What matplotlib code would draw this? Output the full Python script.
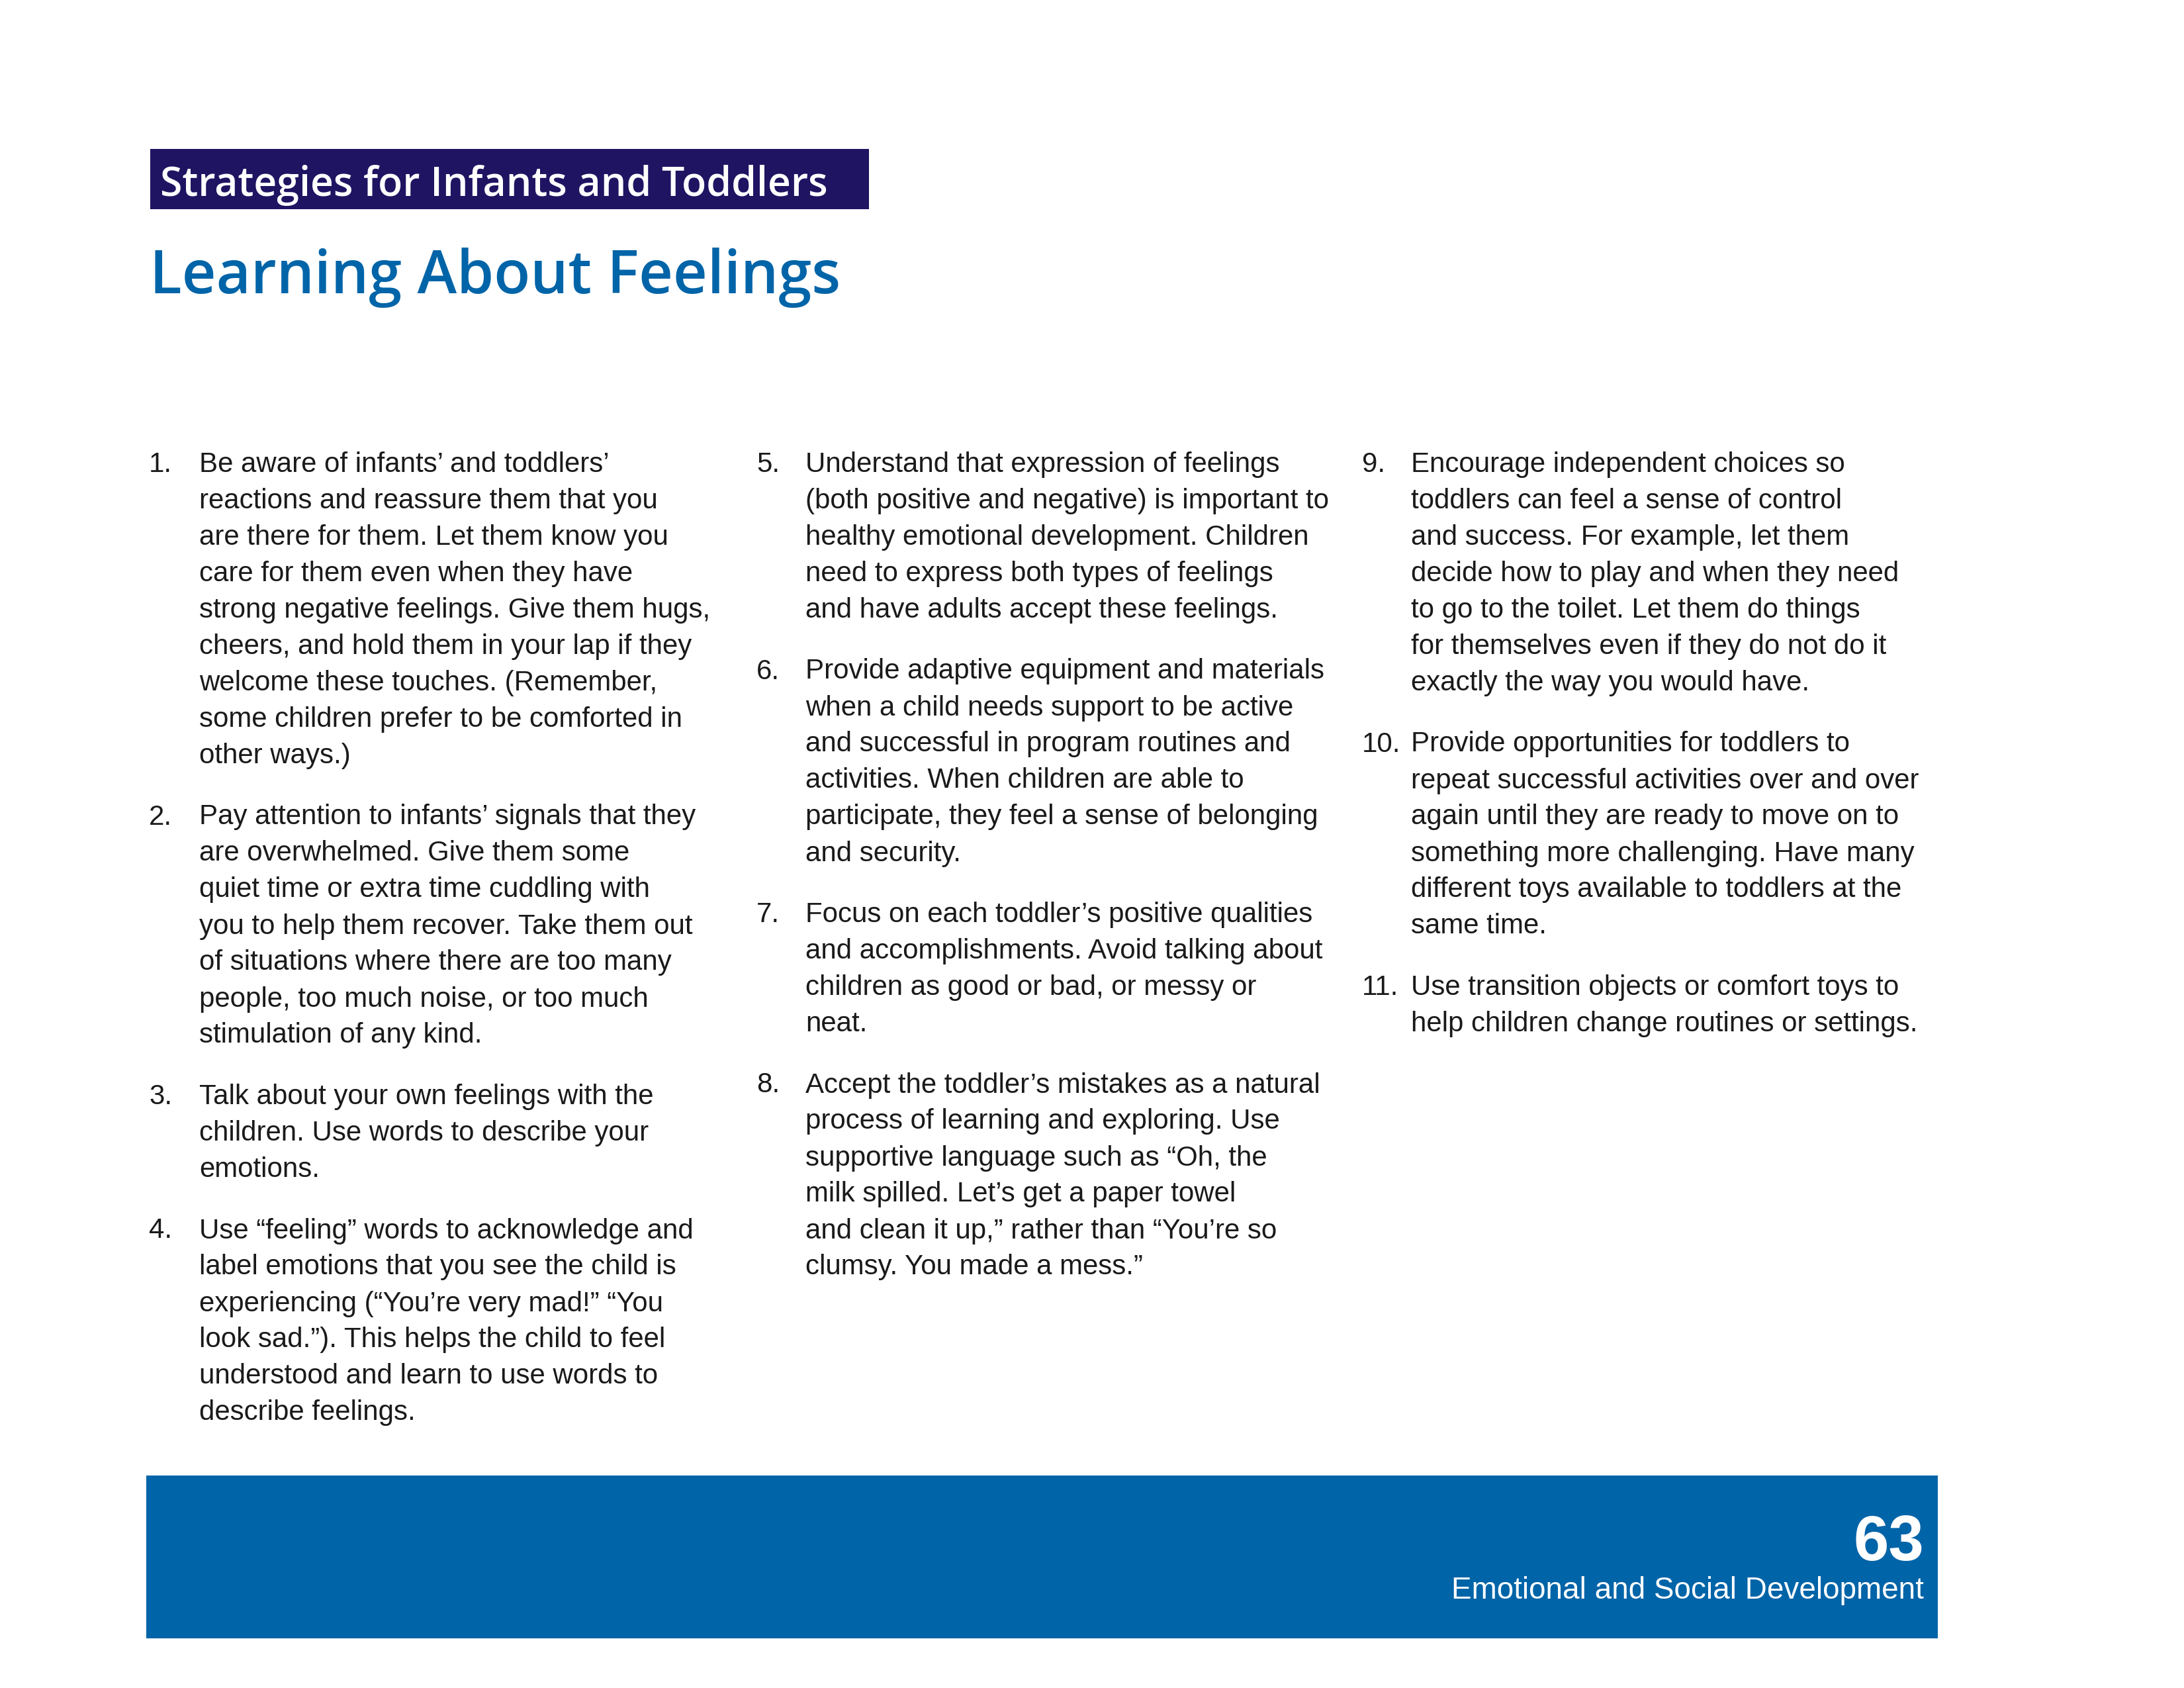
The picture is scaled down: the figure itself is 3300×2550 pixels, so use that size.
import matplotlib
matplotlib.use("Agg")
import matplotlib.pyplot as plt
from matplotlib.patches import Rectangle

# page text
SECTION_LABEL = "Strategies for Infants and Toddlers"
TITLE = "Learning About Feelings"
PAGE_NUMBER = "63"
CHAPTER = "Emotional and Social Development"

# list items, one list of lines per item (line breaks as on the page)
COLUMN_1 = [
    ["Be aware of infants’ and toddlers’",
     "reactions and reassure them that you",
     "are there for them. Let them know you",
     "care for them even when they have",
     "strong negative feelings. Give them hugs,",
     "cheers, and hold them in your lap if they",
     "welcome these touches. (Remember,",
     "some children prefer to be comforted in",
     "other ways.)"],
    ["Pay attention to infants’ signals that they",
     "are overwhelmed. Give them some",
     "quiet time or extra time cuddling with",
     "you to help them recover. Take them out",
     "of situations where there are too many",
     "people, too much noise, or too much",
     "stimulation of any kind."],
    ["Talk about your own feelings with the",
     "children. Use words to describe your",
     "emotions."],
    ["Use “feeling” words to acknowledge and",
     "label emotions that you see the child is",
     "experiencing (“You’re very mad!” “You",
     "look sad.”). This helps the child to feel",
     "understood and learn to use words to",
     "describe feelings."],
]
COLUMN_2 = [
    ["Understand that expression of feelings",
     "(both positive and negative) is important to",
     "healthy emotional development. Children",
     "need to express both types of feelings",
     "and have adults accept these feelings."],
    ["Provide adaptive equipment and materials",
     "when a child needs support to be active",
     "and successful in program routines and",
     "activities. When children are able to",
     "participate, they feel a sense of belonging",
     "and security."],
    ["Focus on each toddler’s positive qualities",
     "and accomplishments. Avoid talking about",
     "children as good or bad, or messy or",
     "neat."],
    ["Accept the toddler’s mistakes as a natural",
     "process of learning and exploring. Use",
     "supportive language such as “Oh, the",
     "milk spilled. Let’s get a paper towel",
     "and clean it up,” rather than “You’re so",
     "clumsy. You made a mess.”"],
]
COLUMN_3 = [
    ["Encourage independent choices so",
     "toddlers can feel a sense of control",
     "and success. For example, let them",
     "decide how to play and when they need",
     "to go to the toilet. Let them do things",
     "for themselves even if they do not do it",
     "exactly the way you would have."],
    ["Provide opportunities for toddlers to",
     "repeat successful activities over and over",
     "again until they are ready to move on to",
     "something more challenging. Have many",
     "different toys available to toddlers at the",
     "same time."],
    ["Use transition objects or comfort toys to",
     "help children change routines or settings."],
]

# Colours
NAVY = "#1e1462"
BLUE = "#0064a8"

W, H = 3300, 2550
fig = plt.figure(figsize=(11, 8.5), dpi=300)
ax = fig.add_axes([0, 0, 1, 1])
ax.set_xlim(0, W)
ax.set_ylim(H, 0)
ax.axis("off")

# header band
ax.add_patch(Rectangle((227, 225), 1086, 91, color=NAVY, lw=0))
ax.text(242, 296, SECTION_LABEL, color="white", fontsize=14.6,
        family="Open Sans", fontweight="semibold", va="baseline")
ax.text(226, 443, TITLE, color=BLUE, fontsize=21.6,
        family="Open Sans", fontweight="semibold", va="baseline")

# numbered lists
LINE = 55
GAP = 37.5
BODY = 10.1
columns = [(COLUMN_1, 225, 301, 1), (COLUMN_2, 1143, 1217, 5), (COLUMN_3, 2058, 2132, 9)]
for items, num_x, text_x, start in columns:
    y = 713
    for k, lines in enumerate(items):
        ax.text(num_x, y, f"{start + k}.", fontsize=BODY, family="Liberation Sans",
                color="#1a1a1a", va="baseline")
        for j, line in enumerate(lines):
            ax.text(text_x, y + j * LINE, line, fontsize=BODY, family="Liberation Sans",
                    color="#1a1a1a", va="baseline")
        y += len(lines) * LINE + GAP

# footer band
ax.add_patch(Rectangle((221, 2229), 2707, 246, color=BLUE, lw=0))
ax.text(2907, 2357, PAGE_NUMBER, color="white", fontsize=23, fontweight="bold",
        family="Liberation Sans", ha="right", va="baseline")
ax.text(2907, 2415, CHAPTER, color="white", fontsize=11,
        family="Liberation Sans", ha="right", va="baseline")

fig.savefig("out.png", dpi=300, facecolor="white")
